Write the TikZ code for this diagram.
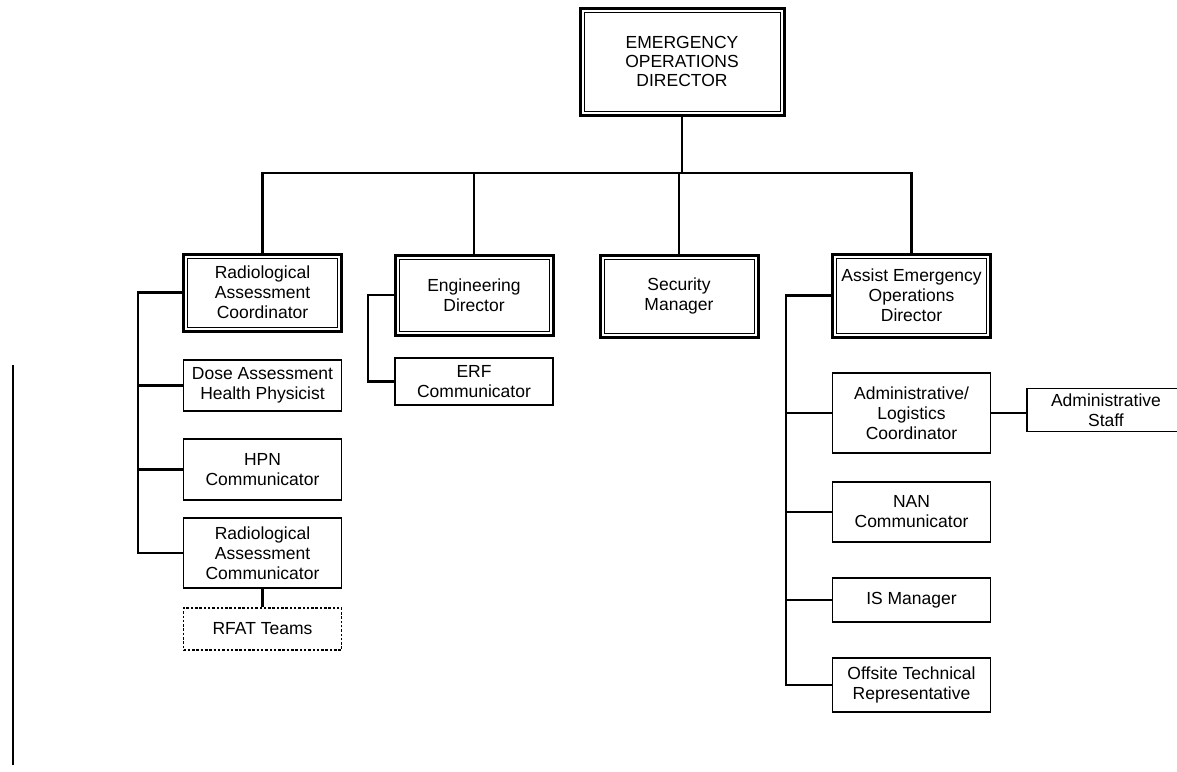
\documentclass[tikz,border=0pt]{standalone}
\usepackage{fontspec}
\setmainfont{Liberation Sans}
\begin{document}
\begin{tikzpicture}[x=1pt,y=-1pt,
  box/.style={draw, line width=1.8pt, rectangle, inner sep=0pt, align=center,
    font=\fontsize{17.5}{20}\selectfont, minimum width=158pt},
  dbox/.style={box, line width=3pt,
    path picture={\draw[line width=1pt]
      ([shift={(4pt,-4pt)}]path picture bounding box.north west) rectangle
      ([shift={(-4pt,4pt)}]path picture bounding box.south east);}},
  rbox/.style={box, dash pattern=on 2.5pt off 1.8pt},
  conn/.style={line width=2.2pt}]
\useasboundingbox (0,0) rectangle (1177,771);

% top
\node[dbox, minimum width=204pt, minimum height=107pt, font=\fontsize{17.5}{19}\selectfont] (eod) at (682,61.5) {EMERGENCY\\OPERATIONS\\DIRECTOR};

% second level
\node[dbox, minimum height=77pt] (rac) at (262.5,292.5) {Radiological\\Assessment\\Coordinator};
\node[dbox, minimum height=80pt] (eng) at (474,295) {Engineering\\Director};
\node[dbox, minimum height=82pt] (sec) at (679,296) {Security\\Manager};
\node[dbox, minimum height=83pt] (aeod) at (911.5,295.5) {Assist Emergency\\Operations\\Director};

% radiological branch
\node[box, minimum height=51pt] (dose) at (262.5,385.5) {Dose Assessment\\Health Physicist};
\node[box, minimum height=61pt] (hpn) at (262.5,469.5) {HPN\\Communicator};
\node[box, minimum height=70pt] (racom) at (262.5,553) {Radiological\\Assessment\\Communicator};
\node[rbox, minimum height=42pt] (rfat) at (262.5,629) {RFAT Teams};

% engineering branch
\node[box, minimum height=47pt] (erf) at (474,381.5) {ERF\\Communicator};

% assist branch
\node[box, minimum height=80pt] (adl) at (911.5,413) {Administrative/\\Logistics\\Coordinator};
\node[box, minimum height=43pt] (ads) at (1106,410) {Administrative\\Staff};
\node[box, minimum height=60pt] (nan) at (911.5,512) {NAN\\Communicator};
\node[box, minimum height=44pt] (ism) at (911.5,600) {IS Manager};
\node[box, minimum height=54pt] (off) at (911.5,685) {Offsite Technical\\Representative};

% bus coordinates
\coordinate (bus) at (0,173);
\coordinate (lx) at (138,0);
\coordinate (ex) at (368,0);
\coordinate (ax) at (786,0);

% connectors
\draw[conn] (eod.south) -- (eod.south |- bus);
\draw[conn] (rac.north) -- (rac.north |- bus) -| (aeod.north);
\draw[conn] (eng.north) -- (eng.north |- bus);
\draw[conn] (sec.north) -- (sec.north |- bus);

\draw[conn] (rac.west) -- (rac.west -| lx) |- (racom.west);
\draw[conn] (dose.west) -- (dose.west -| lx);
\draw[conn] (hpn.west) -- (hpn.west -| lx);
\draw[conn] (racom.south) -- (rfat.north);

\draw[conn] (eng.west) -- (eng.west -| ex) |- (erf.west);

\draw[conn] (aeod.west) -- (aeod.west -| ax) |- (off.west);
\draw[conn] (adl.west) -- (adl.west -| ax);
\draw[conn] (nan.west) -- (nan.west -| ax);
\draw[conn] (ism.west) -- (ism.west -| ax);
\draw[conn] (adl.east) -- (adl.east -| ads.west);

% stray margin line
\coordinate (m1) at (13,365);
\coordinate (m2) at (13,765);
\draw[line width=2.5pt] (m1) -- (m2);
\end{tikzpicture}
\end{document}
